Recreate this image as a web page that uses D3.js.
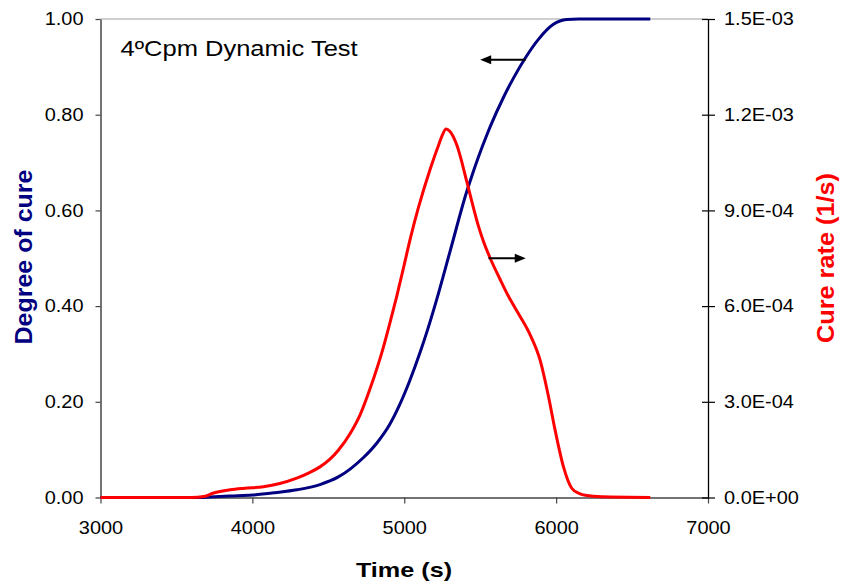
<!DOCTYPE html>
<html>
<head>
<meta charset="utf-8">
<script src="https://cdn.jsdelivr.net/npm/d3@7"></script>
<style>
  body { margin: 0; background: #fff; }
  text { font-family: "Liberation Sans", Arial, sans-serif; }
</style>
</head>
<body>
<svg width="842" height="584"></svg>
<script>
// degree of cure (left axis)
const cureTime  = [3000, 3650, 3720, 3850, 4000, 4150, 4292, 4445, 4566, 4650, 4730, 4820, 4905, 4970, 5036, 5105, 5146, 5212, 5303, 5412, 5444, 5489, 5543, 5566, 5653, 5720, 5796, 5882, 5982, 6070, 6150, 6620];
const cureValue = [0, 0, 0.001, 0.003, 0.005, 0.010, 0.016, 0.027, 0.043, 0.061, 0.083, 0.114, 0.153, 0.194, 0.244, 0.304, 0.343, 0.412, 0.516, 0.640, 0.671, 0.712, 0.757, 0.775, 0.836, 0.877, 0.918, 0.957, 0.989, 0.999, 1.0, 1.0];

// cure rate (right axis, 1/s)
const rateTime  = [3000, 3600, 3680, 3745, 3854, 3950, 4073, 4180, 4292, 4380, 4445, 4511, 4566, 4643, 4710, 4774, 4862, 4910, 4950, 5000, 5039, 5094, 5171, 5230, 5250, 5275, 5300, 5346, 5412, 5444, 5489, 5520, 5566, 5630, 5687, 5760, 5829, 5895, 5950, 5993, 6048, 6103, 6150, 6201, 6300, 6620];
const rateValue = [0, 0, 3e-6, 1.4e-5, 2.4e-5, 2.9e-5, 3.4e-5, 4.4e-5, 6.1e-5, 7.9e-5, 9.6e-5, 1.2e-4, 1.48e-4, 2.0e-4, 2.6e-4, 3.4e-4, 4.7e-4, 5.55e-4, 6.3e-4, 7.3e-4, 8.1e-4, 9.1e-4, 1.03e-3, 1.11e-3, 1.135e-3, 1.155e-3, 1.148e-3, 1.105e-3, 9.9e-4, 9.3e-4, 8.5e-4, 8.05e-4, 7.5e-4, 6.85e-4, 6.3e-4, 5.7e-4, 5.1e-4, 4.3e-4, 3.16e-4, 2.12e-4, 9.7e-5, 2.9e-5, 1.3e-5, 6e-6, 2e-6, 0];

const xTicks = [3000, 4000, 5000, 6000, 7000];
const leftTicks = [0, 0.2, 0.4, 0.6, 0.8, 1.0];
const rightTicks = [0, 3e-4, 6e-4, 9e-4, 1.2e-3, 1.5e-3];

const svg = d3.select('svg');
const plot = {l: 100.5, r: 708, t: 19, b: 497.5};

const x = d3.scaleLinear().domain([3000, 7000]).range([plot.l, plot.r]);
const yL = d3.scaleLinear().domain([0, 1]).range([plot.b, plot.t]);
const yR = d3.scaleLinear().domain([0, 1.5e-3]).range([plot.b, plot.t]);

// stretch text along its reading direction (the reference font runs wide)
function stretch(sel, k) {
    sel.each(function() {
        let w = this.getComputedTextLength();
        d3.select(this).attr('textLength', w * k).attr('lengthAdjust', 'spacingAndGlyphs');
    });
}

// top border of plot area
svg.append('line')
    .attr('x1', plot.l).attr('x2', plot.r)
    .attr('y1', plot.t).attr('y2', plot.t)
    .attr('stroke', '#a0a0a0').attr('stroke-width', 1.2);

// axes
let gx = svg.append('g')
    .attr('transform', `translate(0,${plot.b})`)
    .call(d3.axisBottom(x).tickValues(xTicks).tickFormat(d3.format('d')).tickSize(6).tickSizeOuter(0).tickPadding(18));

let gl = svg.append('g')
    .attr('transform', `translate(${plot.l},0)`)
    .call(d3.axisLeft(yL).tickValues(leftTicks).tickFormat(d3.format('.2f')).tickSize(5).tickSizeOuter(0).tickPadding(12));

let expFmt = d => {
    let s = d.toExponential(1).toUpperCase();
    return s.replace(/E([+-])(\d)$/, 'E$10$2');
};
let gr = svg.append('g')
    .attr('transform', `translate(${plot.r},0)`)
    .call(d3.axisRight(yR).tickValues(rightTicks).tickFormat(expFmt).tickSize(7).tickSizeOuter(0).tickPadding(9));
gr.selectAll('.tick line').attr('x1', -6);

[gx, gl].forEach(g => {
    g.select('.domain').attr('stroke', '#444').attr('stroke-width', 1.5);
    g.selectAll('.tick line').attr('stroke', '#444').attr('stroke-width', 1.2);
});
gr.select('.domain').attr('stroke', '#000').attr('stroke-width', 1.3);
gr.selectAll('.tick line').attr('stroke', '#000').attr('stroke-width', 1.2);

[gx, gl, gr].forEach(g => {
    g.selectAll('.tick text')
        .attr('fill', '#000')
        .style('font-size', '17.5px')
        .style('font-family', '"Liberation Sans", Arial, sans-serif')
        .call(stretch, 1.14);
});

// curves
const cureData = cureTime.map((t, i) => ({t: t, v: cureValue[i]}));
const rateData = rateTime.map((t, i) => ({t: t, v: rateValue[i]}));

svg.append('path')
    .datum(cureData)
    .attr('fill', 'none')
    .attr('stroke', '#000080')
    .attr('stroke-width', 3)
    .attr('d', d3.line().x(d => x(d.t)).y(d => yL(d.v)).curve(d3.curveMonotoneX));

svg.append('path')
    .datum(rateData)
    .attr('fill', 'none')
    .attr('stroke', '#ff0000')
    .attr('stroke-width', 3)
    .attr('d', d3.line().x(d => x(d.t)).y(d => yR(d.v)).curve(d3.curveMonotoneX));

// arrows pointing to each curve's axis
const arrows = [
    {from: 5800, to: 5500, y: yL(0.915)},
    {from: 5555, to: 5800, y: yR(7.5e-4)}
];
arrows.forEach(a => {
    let x1 = x(a.from), x2 = x(a.to);
    let dir = Math.sign(x2 - x1);
    svg.append('line')
        .attr('x1', x1).attr('x2', x2 - dir * 8)
        .attr('y1', a.y).attr('y2', a.y)
        .attr('stroke', '#000').attr('stroke-width', 2);
    svg.append('path')
        .attr('d', `M${x2},${a.y} L${x2 - dir * 11},${a.y - 4.5} L${x2 - dir * 11},${a.y + 4.5} Z`)
        .attr('fill', '#000');
});

// labels
svg.append('text')
    .attr('x', 120.5).attr('y', 56)
    .style('font-size', '22px')
    .attr('fill', '#000')
    .text('4ºCpm Dynamic Test')
    .call(stretch, 1.16);

svg.append('text')
    .attr('x', 404).attr('y', 577)
    .attr('text-anchor', 'middle')
    .style('font-size', '21px').style('font-weight', 'bold')
    .attr('fill', '#000')
    .text('Time (s)')
    .call(stretch, 1.2);

svg.append('text')
    .attr('transform', 'translate(32,257) rotate(-90)')
    .attr('text-anchor', 'middle')
    .style('font-size', '23px').style('font-weight', 'bold')
    .attr('fill', '#000080')
    .text('Degree of cure')
    .attr('textLength', 175).attr('lengthAdjust', 'spacingAndGlyphs');

svg.append('text')
    .attr('transform', 'translate(834,258) rotate(-90)')
    .attr('text-anchor', 'middle')
    .style('font-size', '23px').style('font-weight', 'bold')
    .attr('fill', '#ff0000')
    .text('Cure rate (1/s)')
    .attr('textLength', 170).attr('lengthAdjust', 'spacingAndGlyphs');
</script>
</body>
</html>
